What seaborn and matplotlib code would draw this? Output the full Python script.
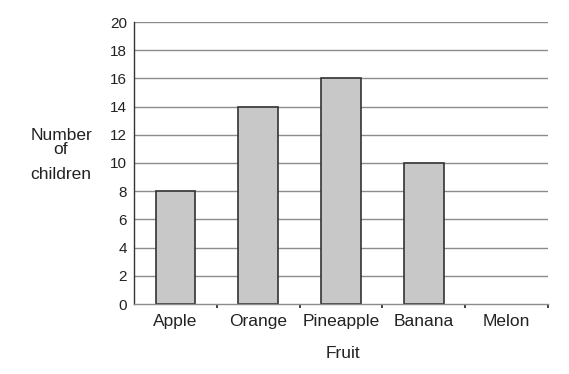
import matplotlib
matplotlib.use("Agg")
import matplotlib.pyplot as plt
import seaborn as sns
import pandas as pd

fruits = ["Apple", "Orange", "Pineapple", "Banana", "Melon"]
children = [8, 14, 16, 10, 0]
y_ticks = list(range(0, 21, 2))

sns.set_theme(style="white")
plt.rcParams['font.family'] = ['Liberation Sans', 'DejaVu Sans']

df = pd.DataFrame({"Fruit": fruits, "Children": children})

fig = plt.figure(figsize=(5.69, 3.74), dpi=100)
ax = fig.add_axes([134/569, 1-304/374, (548-134)/569, (304-22)/374])

ax.set_axisbelow(True)
for t in y_ticks[1:]:
    ax.axhline(t, color="#8c8c8c", lw=1.0, zorder=0)

sns.barplot(data=df, x="Fruit", y="Children", ax=ax, color="#c8c8c9",
            edgecolor="#333333", linewidth=1.2, width=0.48, saturation=1, zorder=2)
for p in ax.patches:
    if p.get_height() == 0:
        p.set_visible(False)

ax.set_xlim(-0.5, 4.5)
ax.set_ylim(0, 20)
ax.set_yticks(y_ticks)
ax.set_yticklabels([str(t) for t in y_ticks], fontsize=11, color="#222222")
ax.tick_params(axis="y", length=0, pad=5)
ax.tick_params(axis="x", which="major", length=0, labelsize=12.5, labelcolor="#222222", pad=7)
ax.set_xticks([0.5, 1.5, 2.5, 3.5, 4.5], minor=True)
ax.tick_params(axis="x", which="minor", bottom=True, length=3, width=1.3, color="#333333",
               direction="out", pad=0)

for s in ["top", "right"]:
    ax.spines[s].set_visible(False)
ax.spines["left"].set_color("#333333")
ax.spines["left"].set_linewidth(1.0)
ax.spines["bottom"].set_color("#8c8c8c")
ax.spines["bottom"].set_linewidth(1.0)

ax.set_xlabel("")
ax.set_ylabel("")
for txt, yb in [("Number", 140), ("of", 154), ("children", 179)]:
    fig.text(61/569, 1-yb/374, txt, ha="center", va="baseline", fontsize=12.5, color="#222222")
fig.text(343/569, 1-353/374, "Fruit", ha="center", va="center", fontsize=12.5, color="#222222")

fig.savefig("out.png", dpi=100)
